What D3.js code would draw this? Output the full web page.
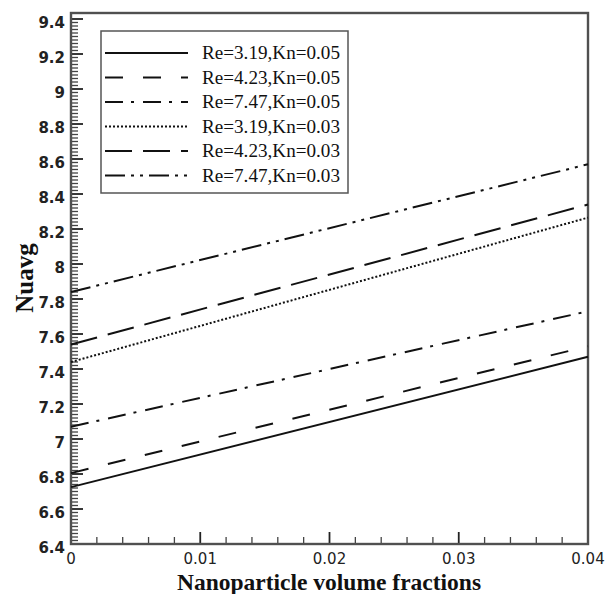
<!DOCTYPE html>
<html><head><meta charset="utf-8">
<script src="https://cdn.jsdelivr.net/npm/d3@7"></script>
<style>body{margin:0;background:#fff}svg{display:block}</style>
</head><body><svg id="c" width="607" height="594"></svg>
<script>
const xValues = [0, 0.04];
const seriesNames = ["Re=3.19,Kn=0.05","Re=4.23,Kn=0.05","Re=7.47,Kn=0.05","Re=3.19,Kn=0.03","Re=4.23,Kn=0.03","Re=7.47,Kn=0.03"];
const s1 = [6.725, 7.47];
const s2 = [6.805, 7.53];
const s3 = [7.07, 7.73];
const s4 = [7.44, 8.265];
const s5 = [7.54, 8.34];
const s6 = [7.84, 8.57];
const seriesValues = [s1, s2, s3, s4, s5, s6];
const dashes = ["none", "18,20", "18,8,3,9", "2,2", "27,11", "20,6,3,6,3,6"];
const xTicks = [0, 0.01, 0.02, 0.03, 0.04];
const yTicks = [6.4,6.6,6.8,7,7.2,7.4,7.6,7.8,8,8.2,8.4,8.6,8.8,9,9.2,9.4];

const svg = d3.select("#c");
const L = 71, R = 588, T = 13, B = 544;
const x = d3.scaleLinear().domain([0, 0.04]).range([L, R]);
const y = d3.scaleLinear().domain([6.4, 9.4]).range([B, 19]);

const yMinor = d3.range(0, 151).map(i => 6.4 + i*0.02).filter(v => !yTicks.some(t => Math.abs(t-v) < 1e-6));
const xMinor = d3.range(0, 21).map(i => i*0.002).filter(v => !xTicks.some(t => Math.abs(t-v) < 1e-9));

const g = svg.append("g");
g.selectAll(".ym").data(yMinor).enter().append("line")
  .attr("x1", L).attr("x2", L+7).attr("y1", d=>y(d)).attr("y2", d=>y(d))
  .attr("stroke", "#444").attr("stroke-width", 1.3);
g.selectAll(".yM").data(yTicks).enter().append("line")
  .attr("x1", L).attr("x2", L+12).attr("y1", d=>y(d)).attr("y2", d=>y(d))
  .attr("stroke", "#222").attr("stroke-width", 1.8);
g.selectAll(".xm").data(xMinor).enter().append("line")
  .attr("y1", B).attr("y2", B-7).attr("x1", d=>x(d)).attr("x2", d=>x(d))
  .attr("stroke", "#444").attr("stroke-width", 1.3);
g.selectAll(".xM").data(xTicks).enter().append("line")
  .attr("y1", B).attr("y2", B-12).attr("x1", d=>x(d)).attr("x2", d=>x(d))
  .attr("stroke", "#222").attr("stroke-width", 1.8);

svg.append("rect").attr("x", L).attr("y", T).attr("width", R-L).attr("height", B-T)
  .attr("fill", "none").attr("stroke", "#505050").attr("stroke-width", 2.4);

const fmt = d => String(+d.toFixed(3));
svg.selectAll(".yl").data(yTicks).enter().append("text")
  .attr("x", L-6).attr("y", d=>y(d)+9).attr("text-anchor","end")
  .attr("font-family","DejaVu Sans").attr("font-weight","bold").attr("font-size",15)
  .attr("fill","#222").text(fmt);
svg.selectAll(".xl").data(xTicks).enter().append("text")
  .attr("x", d=>x(d)).attr("y", B+20).attr("text-anchor","middle")
  .attr("font-family","DejaVu Sans").attr("font-size",15)
  .attr("fill","#222").text(fmt);

svg.append("text").attr("x", 329).attr("y", 590).attr("text-anchor","middle")
  .attr("font-family","Liberation Serif").attr("font-weight","bold").attr("font-size",23.5)
  .attr("fill","#111").text("Nanoparticle volume fractions");
svg.append("text").attr("transform","translate(33,278) rotate(-90)").attr("text-anchor","middle")
  .attr("font-family","Liberation Serif").attr("font-weight","bold").attr("font-size",25)
  .attr("fill","#111").text("Nuavg");

const line = d3.line().x((d,i)=>x(xValues[i])).y(d=>y(d));
svg.selectAll(".series").data(seriesValues).enter().append("path")
  .attr("d", d=>line(d)).attr("fill","none").attr("stroke","#111")
  .attr("stroke-width", 2).attr("stroke-dasharray", (d,i)=>dashes[i]);

const lg = svg.append("g");
lg.append("rect").attr("x",101).attr("y",31).attr("width",247).attr("height",162)
  .attr("fill","#fff").attr("stroke","#555").attr("stroke-width",1.5);
const rowY = i => 53 + i*24.5;
seriesNames.forEach((n,i)=>{
  lg.append("line").attr("x1",105).attr("x2",188).attr("y1",rowY(i)).attr("y2",rowY(i))
    .attr("stroke","#111").attr("stroke-width",2).attr("stroke-dasharray",dashes[i]);
  lg.append("text").attr("x",202).attr("y",rowY(i)+6)
    .attr("font-family","Liberation Serif").attr("font-size",19).attr("fill","#111")
    .attr("textLength",138).attr("lengthAdjust","spacingAndGlyphs").text(n);
});
</script></body></html>
